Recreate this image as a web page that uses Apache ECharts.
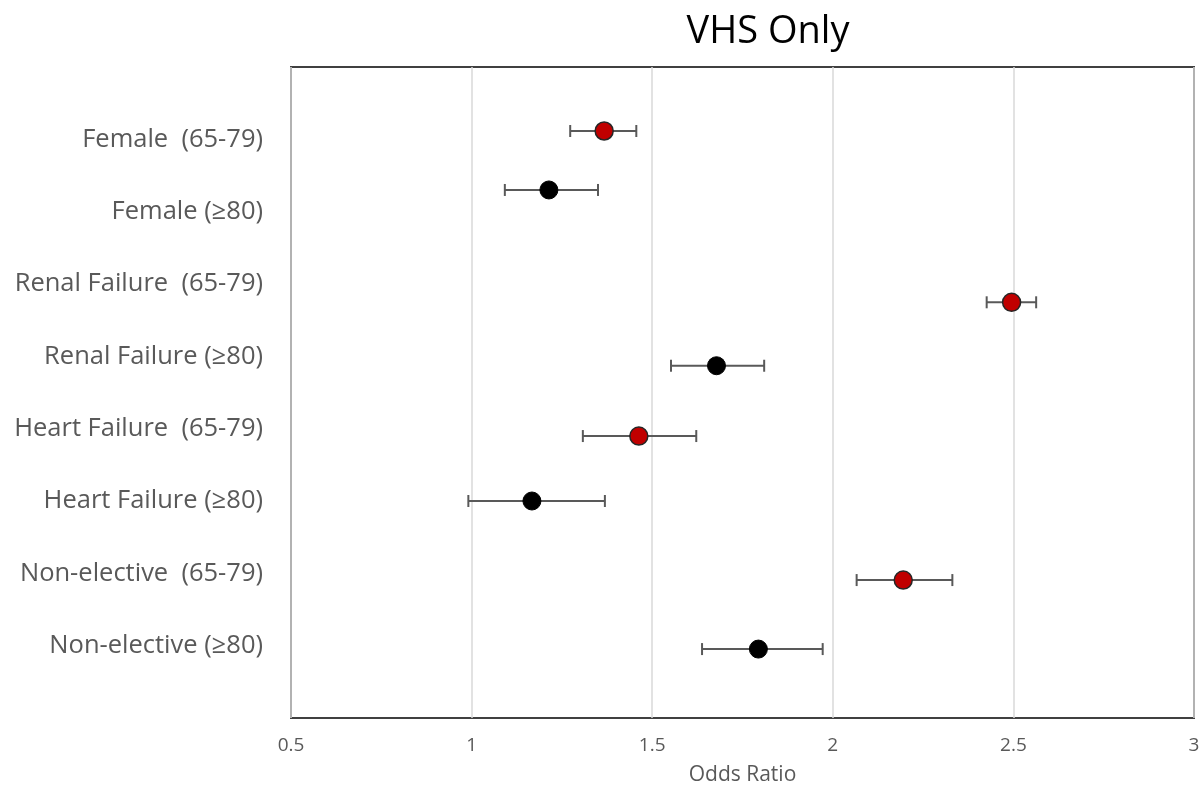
<!DOCTYPE html>
<html>
<head>
<meta charset="utf-8">
<script src="https://cdn.jsdelivr.net/npm/echarts@6/dist/echarts.min.js"></script>
<style>html,body{margin:0;padding:0;background:#fff;}#c{width:1202px;height:788px;}</style>
</head>
<body>
<div id="c"></div>
<script>
// Category labels placed at y = 8 (top) ... 1 (bottom)
const categories = ['Female  (65-79)', 'Female (≥80)', 'Renal Failure  (65-79)', 'Renal Failure (≥80)',
                    'Heart Failure  (65-79)', 'Heart Failure (≥80)', 'Non-elective  (65-79)', 'Non-elective (≥80)'];
const categoryPos = [8, 7, 6, 5, 4, 3, 2, 1];
// Odds ratios and 95% CI, with vertical positions of each point as plotted
const oddsRatio = [1.367, 1.214, 2.495, 1.678, 1.463, 1.167, 2.195, 1.794];
const ciLower   = [1.273, 1.092, 2.426, 1.552, 1.308, 0.991, 2.066, 1.638];
const ciUpper   = [1.456, 1.350, 2.563, 1.810, 1.622, 1.369, 2.331, 1.972];
const pointY    = [8.115, 7.30, 5.747, 4.87, 3.898, 3.0, 1.907, 0.953];
const ageGroup  = ['65-79', '≥80', '65-79', '≥80', '65-79', '≥80', '65-79', '≥80'];
const xTicks = [0.5, 1, 1.5, 2, 2.5, 3];

const labelMap = {};
categoryPos.forEach((p, i) => labelMap[p] = categories[i]);

const ptsYoung = [], ptsOld = [], errData = [];
oddsRatio.forEach((v, i) => {
  (ageGroup[i] === '65-79' ? ptsYoung : ptsOld).push([v, pointY[i]]);
  errData.push([ciLower[i], ciUpper[i], pointY[i]]);
});

const chart = echarts.init(document.getElementById('c'));
chart.setOption({
  animation: false,
  title: {
    text: 'VHS Only', left: 763, top: 8, textAlign: 'center',
    textStyle: { fontFamily: 'Open Sans', fontSize: 38, fontWeight: 'normal', color: '#000' }
  },
  grid: { left: 291, right: 8, top: 67, bottom: 70, show: true, borderColor: '#404040', borderWidth: 2,
          containLabel: false, outerBoundsMode: 'none' },
  xAxis: {
    type: 'value', min: 0.5, max: 3, interval: 0.5,
    name: 'Odds Ratio', nameLocation: 'middle', nameGap: 47,
    nameTextStyle: { fontFamily: 'Open Sans', fontSize: 21, color: '#595959' },
    axisLine: { show: false }, axisTick: { show: false },
    axisLabel: { fontFamily: 'Open Sans', fontSize: 19, color: '#595959', margin: 18,
      formatter: v => xTicks.includes(v) ? String(v) : '' },
    splitLine: { show: true, lineStyle: { color: '#d9d9d9', width: 1.5 } }
  },
  yAxis: {
    type: 'value', min: 0, max: 9, interval: 1,
    axisLine: { show: false }, axisTick: { show: false },
    splitLine: { show: false },
    axisLabel: { fontFamily: 'Open Sans', fontSize: 25.5, color: '#595959', margin: 28,
      verticalAlign: 'middle', padding: [12, 0, 0, 0],
      formatter: v => labelMap[v] || '' }
  },
  series: [
    {
      type: 'custom', z: 2,
      data: errData,
      renderItem: (params, api) => {
        const lo = api.coord([api.value(0), api.value(2)]);
        const hi = api.coord([api.value(1), api.value(2)]);
        const h = 6;
        const style = { stroke: '#595959', lineWidth: 2 };
        return { type: 'group', children: [
          { type: 'line', shape: { x1: lo[0], y1: lo[1], x2: hi[0], y2: hi[1] }, style },
          { type: 'line', shape: { x1: lo[0], y1: lo[1] - h, x2: lo[0], y2: lo[1] + h }, style },
          { type: 'line', shape: { x1: hi[0], y1: hi[1] - h, x2: hi[0], y2: hi[1] + h }, style }
        ]};
      }
    },
    {
      type: 'scatter', z: 3, symbol: 'circle', symbolSize: 18, data: ptsYoung,
      itemStyle: { color: '#c00000', borderColor: '#262626', borderWidth: 1.5, opacity: 1 }
    },
    {
      type: 'scatter', z: 3, symbol: 'circle', symbolSize: 18, data: ptsOld,
      itemStyle: { color: '#000000', borderColor: '#000', borderWidth: 1, opacity: 1 }
    }
  ]
});
</script>
</body>
</html>
